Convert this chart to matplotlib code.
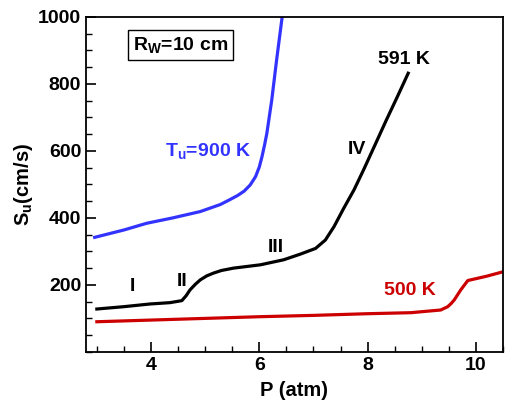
import matplotlib.pyplot as plt
from matplotlib.ticker import MultipleLocator

plt.rcParams['font.family'] = ['Liberation Sans', 'DejaVu Sans']
plt.rcParams['font.weight'] = 'bold'

# T_u = 900 K
p_900 = [2.96, 3.5, 3.92, 4.4, 4.91, 5.28, 5.45, 5.6, 5.72, 5.83, 5.93, 6.0, 6.05, 6.1, 6.14, 6.23, 6.32, 6.43]
s_900 = [342, 364, 384, 400, 419, 440, 454, 467, 480, 498, 523, 552, 583, 620, 653, 752, 872, 1010]

# T_u = 591 K
p_591 = [3.0, 3.5, 3.98, 4.35, 4.57, 4.65, 4.72, 4.82, 4.91, 5.03, 5.15, 5.3, 5.52, 6.02, 6.45, 6.76, 7.04,
         7.22, 7.38, 7.56, 7.75, 7.93, 8.12, 8.34, 8.55, 8.75]
s_591 = [128, 135, 143, 147, 153, 168, 185, 202, 215, 227, 235, 243, 250, 260, 275, 292, 309,
         334, 374, 429, 484, 545, 612, 690, 762, 832]

# T_u = 500 K
p_500 = [3.0, 4.0, 5.0, 6.0, 7.0, 8.0, 8.8, 9.0, 9.35, 9.48, 9.54, 9.6, 9.66, 9.72, 9.79, 9.85, 10.2, 10.52]
s_500 = [90, 95, 100, 105, 109, 114, 117, 120, 125, 135, 144, 155, 170, 185, 200, 213, 226, 240]

fig = plt.figure(figsize=(5.06, 4.04), dpi=100)
ax = fig.add_axes([0.17, 0.129, 0.824, 0.829])

ax.plot(p_900, s_900, color='#3333ff', lw=2.3)
ax.plot(p_591, s_591, color='black', lw=2.3)
ax.plot(p_500, s_500, color='#cc0000', lw=2.3)

ax.set_xlim(2.8, 10.5)
ax.set_ylim(0, 1000)
ax.xaxis.set_major_locator(MultipleLocator(2))
ax.xaxis.set_minor_locator(MultipleLocator(0.5))
ax.yaxis.set_minor_locator(MultipleLocator(50))
ax.set_yticks([200, 400, 600, 800, 1000])
ax.tick_params(which='major', direction='in', length=7, width=1.2, labelsize=14)
ax.tick_params(which='minor', direction='in', length=4, width=1.0)
for lab in ax.get_xticklabels() + ax.get_yticklabels():
    lab.set_fontweight('bold')
for sp in ax.spines.values():
    sp.set_linewidth(1.3)

ax.set_xlabel('P (atm)', fontsize=14.5, fontweight='bold', labelpad=5)
ax.set_ylabel('S$_\\mathregular{u}$(cm/s)', fontsize=14.5, fontweight='bold', labelpad=2)

ax.text(5.06, 597, 'T$_\\mathregular{u}$=900 K', color='#3333ff', fontsize=14,
        fontweight='bold', ha='center', va='center')
ax.text(8.67, 872, '591 K', color='black', fontsize=14, fontweight='bold', ha='center', va='center')
ax.text(8.78, 182, '500 K', color='#cc0000', fontsize=14, fontweight='bold', ha='center', va='center')
ax.text(7.8, 603, 'IV', fontsize=14, fontweight='bold', ha='center', va='center')
ax.text(6.3, 313, 'III', fontsize=14, fontweight='bold', ha='center', va='center')
ax.text(4.57, 209, 'II', fontsize=14, fontweight='bold', ha='center', va='center')
ax.text(3.65, 194, 'I', fontsize=14, fontweight='bold', ha='center', va='center')
ax.text(0.227, 0.915, 'R$_\\mathregular{W}$=10 cm', transform=ax.transAxes, fontsize=14,
        fontweight='bold', ha='center', va='center',
        bbox=dict(boxstyle='square,pad=0.25', fc='white', ec='black', lw=1.0))

plt.savefig('out.png', dpi=100)
